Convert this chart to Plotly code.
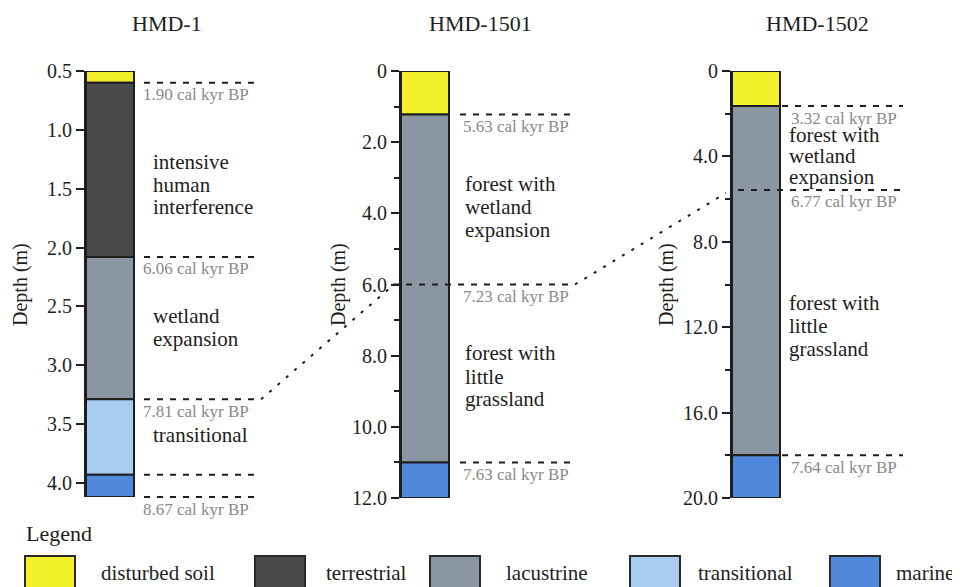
import plotly.graph_objects as go

W, H = 960, 587
OFF = 8  # page offset of the figure inside the browser window
FONT = "Liberation Serif"

# ---------------- data ----------------
cores = ["HMD-1", "HMD-1501", "HMD-1502"]

hmd1_tops = [0.5, 0.6, 2.08, 3.29, 3.93]
hmd1_bottoms = [0.6, 2.08, 3.29, 3.93, 4.12]
hmd1_facies = ["disturbed soil", "terrestrial", "lacustrine", "transitional", "marine"]

hmd1501_tops = [0.0, 1.22, 11.0]
hmd1501_bottoms = [1.22, 11.0, 12.0]
hmd1501_facies = ["disturbed soil", "lacustrine", "marine"]

hmd1502_tops = [0.0, 1.64, 18.0]
hmd1502_bottoms = [1.64, 18.0, 20.0]
hmd1502_facies = ["disturbed soil", "lacustrine", "marine"]

hmd1_age_depths = [0.6, 2.08, 3.29, 4.12]
hmd1_ages = ["1.90 cal kyr BP", "6.06 cal kyr BP", "7.81 cal kyr BP", "8.67 cal kyr BP"]
hmd1_plain_lines = [3.93]

hmd1501_age_depths = [1.22, 6.0, 11.0]
hmd1501_ages = ["5.63 cal kyr BP", "7.23 cal kyr BP", "7.63 cal kyr BP"]
hmd1501_plain_lines = []

hmd1502_age_depths = [1.64, 5.57, 18.0]
hmd1502_ages = ["3.32 cal kyr BP", "6.77 cal kyr BP", "7.64 cal kyr BP"]
hmd1502_plain_lines = []

# correlated horizon in each core
correlation_depths = [3.29, 6.0, 5.57]

hmd1_tickvals = [0.5, 1.0, 1.5, 2.0, 2.5, 3.0, 3.5, 4.0]
hmd1_ticktext = ["0.5", "1.0", "1.5", "2.0", "2.5", "3.0", "3.5", "4.0"]
hmd1_minor = []
hmd1501_tickvals = [0, 2, 4, 6, 8, 10, 12]
hmd1501_ticktext = ["0", "2.0", "4.0", "6.0", "8.0", "10.0", "12.0"]
hmd1501_minor = [1, 3, 5, 7, 9, 11]
hmd1502_tickvals = [0, 4, 8, 12, 16, 20]
hmd1502_ticktext = ["0", "4.0", "8.0", "12.0", "16.0", "20.0"]
hmd1502_minor = [2, 6, 10, 14, 18]

hmd1_interp = [["intensive", "human", "interference"], ["wetland", "expansion"], ["transitional"]]
hmd1501_interp = [["forest with", "wetland", "expansion"], ["forest with", "little", "grassland"]]
hmd1502_interp = [["forest with", "wetland", "expansion"], ["forest with", "little", "grassland"]]

legend_facies = ["disturbed soil", "terrestrial", "lacustrine", "transitional", "marine"]

# ---------------- styles / layout ----------------
facies_colors = {
    "disturbed soil": "#F3F02C",
    "terrestrial": "#4A4A4A",
    "lacustrine": "#8A96A1",
    "transitional": "#A9CDF1",
    "marine": "#5088DC",
}

panels = [
    dict(tops=hmd1_tops, bottoms=hmd1_bottoms, facies=hmd1_facies,
         age_d=hmd1_age_depths, ages=hmd1_ages, plain=hmd1_plain_lines,
         tickvals=hmd1_tickvals, ticktext=hmd1_ticktext, minor=hmd1_minor,
         interp=hmd1_interp, interp_y=[[162, 185, 207], [316, 339], [435]],
         axis_x=86, top_px=71, bot_px=497, line_x0=144, line_x1=258,
         label_x=142, interp_x=152, title_x=167, ytitle_x=20,
         cross_x0=144),
    dict(tops=hmd1501_tops, bottoms=hmd1501_bottoms, facies=hmd1501_facies,
         age_d=hmd1501_age_depths, ages=hmd1501_ages, plain=hmd1501_plain_lines,
         tickvals=hmd1501_tickvals, ticktext=hmd1501_ticktext, minor=hmd1501_minor,
         interp=hmd1501_interp, interp_y=[[184, 207, 230], [353, 377, 399]],
         axis_x=401, top_px=71, bot_px=498, line_x0=460, line_x1=572,
         label_x=462, interp_x=464, title_x=480, ytitle_x=338,
         cross_x0=393),
    dict(tops=hmd1502_tops, bottoms=hmd1502_bottoms, facies=hmd1502_facies,
         age_d=hmd1502_age_depths, ages=hmd1502_ages, plain=hmd1502_plain_lines,
         tickvals=hmd1502_tickvals, ticktext=hmd1502_ticktext, minor=hmd1502_minor,
         interp=hmd1502_interp, interp_y=[[135, 156, 177], [303, 326, 349]],
         axis_x=732, top_px=71, bot_px=498, line_x0=782, line_x1=903,
         label_x=790, interp_x=788, title_x=817, ytitle_x=666,
         cross_x0=738),
]

COL_W = 48
DOM_W = 180


def fx(px):
    return (px - OFF) / W


def fy(py):
    return 1 - (py - OFF) / H


def depth_px(p, d):
    r0 = p["tops"][0]
    r1 = p["bottoms"][-1]
    return p["top_px"] + (d - r0) / (r1 - r0) * (p["bot_px"] - p["top_px"])


fig = go.Figure()
shapes = []
annotations = []
layout_axes = {}

for i, (name, p) in enumerate(zip(cores, panels)):
    k = "" if i == 0 else str(i + 1)
    for t, b, f in zip(p["tops"], p["bottoms"], p["facies"]):
        fig.add_trace(go.Bar(
            x=[0.5], y=[b - t], base=[t], width=[1],
            marker=dict(color=facies_colors[f], line=dict(color="#1e1e1e", width=2)),
            opacity=1, showlegend=False, hoverinfo="skip",
            xaxis="x" + k, yaxis="y" + k,
        ))
    layout_axes["xaxis" + k] = dict(
        domain=[fx(p["axis_x"]), fx(p["axis_x"] + DOM_W)],
        range=[0, DOM_W / COL_W], visible=False, fixedrange=True,
        anchor="y" + k, automargin=False,
    )
    yax = dict(
        domain=[fy(p["bot_px"]), fy(p["top_px"])],
        range=[p["bottoms"][-1], p["tops"][0]],
        anchor="x" + k, showgrid=False, zeroline=False, automargin=False,
        showline=True, linecolor="#1e1e1e", linewidth=2,
        ticks="outside", ticklen=8, tickwidth=2, tickcolor="#1e1e1e",
        tickmode="array", tickvals=p["tickvals"], ticktext=p["ticktext"],
        tickfont=dict(family=FONT, size=20, color="#1e1e1e"),
        fixedrange=True,
    )
    if p["minor"]:
        yax["minor"] = dict(tickmode="array", tickvals=p["minor"], ticks="outside",
                            ticklen=5, tickwidth=2, tickcolor="#1e1e1e", showgrid=False)
    layout_axes["yaxis" + k] = yax

    # title
    annotations.append(dict(text=name, x=fx(p["title_x"]), y=fy(23), xref="paper", yref="paper",
                            showarrow=False, xanchor="center", yanchor="middle",
                            font=dict(family=FONT, size=22, color="#1e1e1e")))
    # y title
    annotations.append(dict(text="Depth (m)", x=fx(p["ytitle_x"]), y=fy(285), xref="paper", yref="paper",
                            showarrow=False, textangle=-90, xanchor="center", yanchor="middle",
                            font=dict(family=FONT, size=20, color="#1e1e1e")))

    # dashed horizon lines with ages
    for d, lab in zip(p["age_d"], p["ages"]):
        ypx = depth_px(p, d)
        x0 = p["cross_x0"] if d == correlation_depths[i] else p["line_x0"]
        shapes.append(dict(type="line", xref="paper", yref="paper",
                           x0=fx(x0), x1=fx(p["line_x1"]), y0=fy(ypx), y1=fy(ypx),
                           line=dict(color="#1e1e1e", width=2, dash="6px,7px")))
        annotations.append(dict(text=lab, x=fx(p["label_x"]), y=fy(ypx + 12), xref="paper", yref="paper",
                                showarrow=False, xanchor="left", yanchor="middle", borderpad=0,
                                font=dict(family=FONT, size=17, color="#8a8a8a")))
    for d in p["plain"]:
        ypx = depth_px(p, d)
        shapes.append(dict(type="line", xref="paper", yref="paper",
                           x0=fx(p["line_x0"]), x1=fx(p["line_x1"]), y0=fy(ypx), y1=fy(ypx),
                           line=dict(color="#1e1e1e", width=2, dash="6px,7px")))

    # interpretation text
    for lines, ys in zip(p["interp"], p["interp_y"]):
        for line, ypx in zip(lines, ys):
            annotations.append(dict(text=line, x=fx(p["interp_x"]), y=fy(ypx), xref="paper", yref="paper",
                                    showarrow=False, xanchor="left", yanchor="middle", borderpad=0,
                                    font=dict(family=FONT, size=21, color="#1e1e1e")))

# correlation connectors
conn = [
    ((panels[0]["line_x1"] + 3, depth_px(panels[0], correlation_depths[0])),
     (panels[1]["cross_x0"] + 1, depth_px(panels[1], correlation_depths[1]))),
    ((panels[1]["line_x1"] + 3, depth_px(panels[1], correlation_depths[1])),
     (panels[2]["axis_x"] - 6, depth_px(panels[2], correlation_depths[2]) + 3)),
]
for (xa, ya), (xb, yb) in conn:
    shapes.append(dict(type="line", xref="paper", yref="paper",
                       x0=fx(xa), y0=fy(ya), x1=fx(xb), y1=fy(yb),
                       line=dict(color="#1e1e1e", width=2, dash="3px,8px")))

# legend
annotations.append(dict(text="Legend", x=fx(24), y=fy(533), xref="paper", yref="paper",
                        showarrow=False, xanchor="left", yanchor="middle",
                        font=dict(family=FONT, size=22, color="#1e1e1e")))
legend_box_x = [25, 255, 430, 630, 830]
legend_text_x = [100, 325, 505, 697, 895]
for f, bx, tx in zip(legend_facies, legend_box_x, legend_text_x):
    shapes.append(dict(type="rect", xref="paper", yref="paper",
                       x0=fx(bx), x1=fx(bx + 50), y0=fy(556), y1=fy(600),
                       fillcolor=facies_colors[f], line=dict(color="#2a2a2a", width=2)))
    annotations.append(dict(text=f, x=fx(tx), y=fy(573), xref="paper", yref="paper",
                            showarrow=False, xanchor="left", yanchor="middle", borderpad=0,
                            font=dict(family=FONT, size=21, color="#1e1e1e")))

fig.update_layout(
    width=W, height=H,
    margin=dict(l=0, r=0, t=0, b=0),
    paper_bgcolor="#ffffff", plot_bgcolor="rgba(0,0,0,0)",
    barmode="overlay", showlegend=False,
    shapes=shapes, annotations=annotations,
    **layout_axes,
)

fig.write_html("out.html")
